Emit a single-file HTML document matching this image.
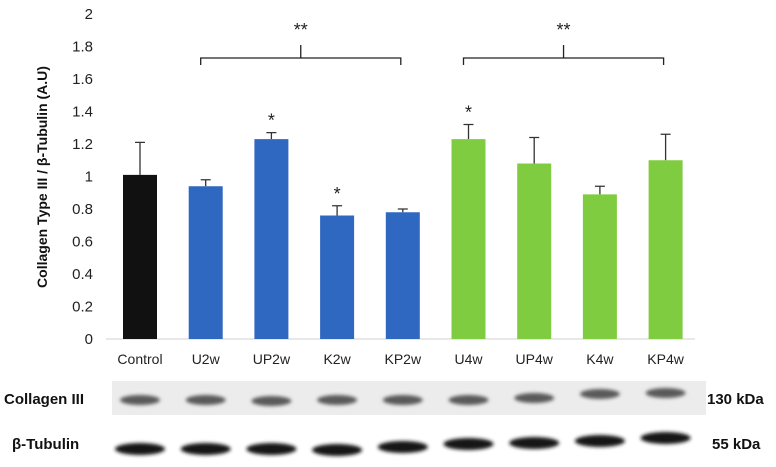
<!DOCTYPE html>
<html><head><meta charset="utf-8"><style>
body{margin:0;background:#fff;font-family:"Liberation Sans",sans-serif}
svg{display:block}
</style></head><body>
<svg width="776" height="467" xmlns="http://www.w3.org/2000/svg">
<defs><filter id="bl" x="-20%" y="-100%" width="140%" height="300%"><feGaussianBlur stdDeviation="1.8"/></filter></defs>
<g id="axes"></g>
<g id="bars"></g>
<g id="blot"></g>
</svg>
<script>
const categories=["Control","U2w","UP2w","K2w","KP2w","U4w","UP4w","K4w","KP4w"];
const values=[1.01,0.94,1.23,0.76,0.78,1.23,1.08,0.89,1.10];
const errors=[0.20,0.04,0.04,0.06,0.02,0.09,0.16,0.05,0.16];
const stars=["","","*","*","","*","","",""];
const colors=["#111111","#2f68c0","#2f68c0","#2f68c0","#2f68c0","#80cc40","#80cc40","#80cc40","#80cc40"];
const yTicks=["0","0.2","0.4","0.6","0.8","1","1.2","1.4","1.6","1.8","2"];
const collagenY=[400,400,401,400,400,400,398,394,393];
const tubulinY=[449,449,449,450,447,444,443,441,438];
const NS="http://www.w3.org/2000/svg";
const y=v=>339-v*162.5;
const x=i=>140+i*65.7;
function mk(tag,attrs,parent,text){const e=document.createElementNS(NS,tag);for(const k in attrs)e.setAttribute(k,attrs[k]);if(text!==undefined)e.textContent=text;parent.appendChild(e);return e;}
const axes=document.getElementById('axes'),bars=document.getElementById('bars'),blot=document.getElementById('blot');
yTicks.forEach(t=>{const e=mk('text',{x:93,y:y(+t)+5,'text-anchor':'end','font-size':15,fill:'#222'},axes,t);

});
const base=mk('line',{x1:106,x2:695,y1:339,y2:339,stroke:'#d0d0d0','stroke-width':1},axes);


const yt=mk('text',{transform:'translate(47,177) rotate(-90)','text-anchor':'middle','font-size':14,'font-weight':'bold',fill:'#111'},axes,'Collagen Type III / β-Tubulin (A.U)');


categories.forEach((c,i)=>{
const cx=x(i);
const eb=mk('path',{d:`M${cx} ${y(values[i])}V${y(values[i]+errors[i])}M${cx-5} ${y(values[i]+errors[i])}H${cx+5}`,stroke:'#333','stroke-width':1.3,fill:'none'},bars);


const r=mk('rect',{x:cx-17,y:y(values[i]),width:34,height:339-y(values[i]),fill:colors[i]},bars);


const l=mk('text',{x:cx,y:364,'text-anchor':'middle','font-size':14,fill:'#222'},bars,c);


if(stars[i]){const s=mk('text',{x:cx,y:y(values[i]+errors[i])-6,'text-anchor':'middle','font-size':18,fill:'#222'},bars,stars[i]);

}
});
[[1,4],[5,8]].forEach(([a,b])=>{const x1=x(a)-5,x2=x(b)-2,m=(x1+x2)/2;
const br=mk('path',{d:`M${x1} 65V58H${x2}V65M${m} 58V45`,stroke:'#222','stroke-width':1.3,fill:'none'},bars);


const s=mk('text',{x:m,y:36,'text-anchor':'middle','font-size':18,fill:'#222'},bars,'**');

});
const bg=mk('rect',{x:112,y:381,width:594,height:34,fill:'#ececec'},blot);


categories.forEach((c,i)=>{
const b1=mk('ellipse',{cx:x(i),cy:collagenY[i],rx:20,ry:5,fill:'#5a5a5a',filter:'url(#bl)'},blot);


const b2=mk('ellipse',{cx:x(i),cy:tubulinY[i],rx:25,ry:6,fill:'#151515',filter:'url(#bl)'},blot);


});
[["Collagen III",4,404,'collagen-label'],["β-Tubulin",12,449,'tubulin-label'],["130 kDa",707,404,'collagen-kda'],["55 kDa",712,449,'tubulin-kda']].forEach(([t,tx,ty,n])=>{
const e=mk('text',{x:tx,y:ty,'font-size':15,'font-weight':'bold',fill:'#111'},blot,t);

});
</script>
</body></html>
